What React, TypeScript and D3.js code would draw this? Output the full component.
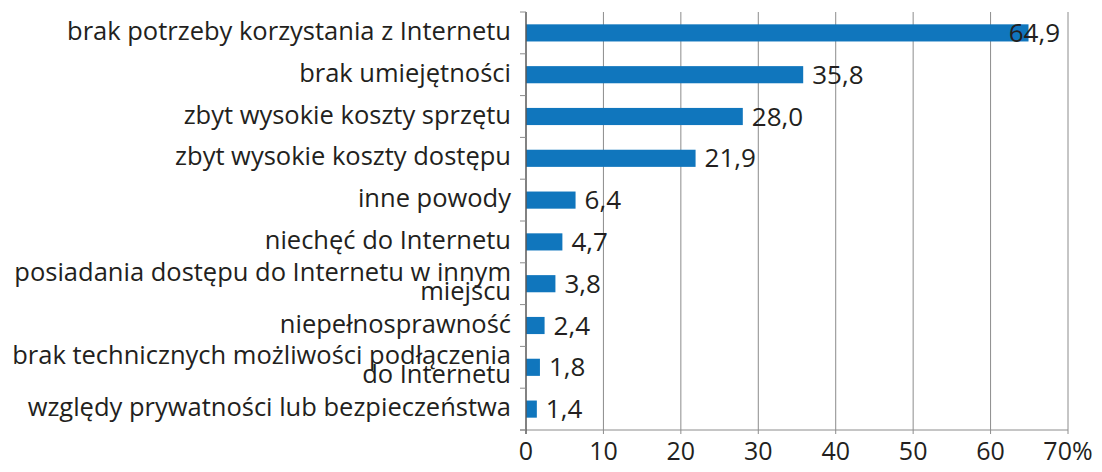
import React from "react";
import * as d3 from "d3";

const categories: string[][] = [
  ["brak potrzeby korzystania z Internetu"],
  ["brak umiejętności"],
  ["zbyt wysokie koszty sprzętu"],
  ["zbyt wysokie koszty dostępu"],
  ["inne powody"],
  ["niechęć do Internetu"],
  ["posiadania dostępu do Internetu w innym", "miejscu"],
  ["niepełnosprawność"],
  ["brak technicznych możliwości podłączenia", "do Internetu"],
  ["względy prywatności lub bezpieczeństwa"],
];
const values: number[] = [64.9, 35.8, 28.0, 21.9, 6.4, 4.7, 3.8, 2.4, 1.8, 1.4];
const xTicks: number[] = [0, 10, 20, 30, 40, 50, 60, 70];
const xTickLabels: string[] = ["0", "10", "20", "30", "40", "50", "60", "70%"];

const W = 1102;
const H = 472;
const left = 526;
const right = 1068;
const top = 12;
const bottom = 430;
const FONT = "'Open Sans', 'Noto Sans', sans-serif";

export default function App() {
  const x = d3.scaleLinear().domain([0, 70]).range([left, right]);
  const idx = categories.map((_, i) => String(i));
  const y = d3.scaleBand().domain(idx).range([top, bottom]).paddingInner(0.59).paddingOuter(0.295);
  const band = d3.scaleBand().domain(idx).range([top, bottom]);
  const fmt = (v: number) => v.toFixed(1).replace(".", ",");
  const labelW = (s: string) => s.length * 13;

  return (
    <svg width={W} height={H} style={{ position: "absolute", left: 0, top: 0, background: "#fff" }}>
      {xTicks.slice(1).map((t) => (
        <line key={"g" + t} x1={x(t)} x2={x(t)} y1={top} y2={bottom + 4} stroke="#8c8c8c" strokeWidth={1} />
      ))}
      <line x1={left - 6} x2={right} y1={bottom} y2={bottom} stroke="#8c8c8c" strokeWidth={1} />
      {values.map((v, i) => (
        <rect key={"b" + i} x={x(0)} y={y(String(i))} width={x(v) - x(0)} height={y.bandwidth()} fill="#1076bd" />
      ))}
      <line x1={left} x2={left} y1={top} y2={bottom + 4} stroke="#595959" strokeWidth={1.5} />
      {d3.range(categories.length + 1).map((k) => {
        const yy = top + k * band.bandwidth();
        return <line key={"t" + k} x1={left - 6} x2={left} y1={yy} y2={yy} stroke="#8c8c8c" strokeWidth={1} />;
      })}
      {categories.map((lines, i) => {
        const c = (band(String(i)) as number) + band.bandwidth() / 2;
        return (
          <text key={"c" + i} textAnchor="end" fontFamily={FONT} fontSize={25.5} fill="#231f20">
            {lines.length === 1 ? (
              <tspan x={511} y={c + 7}>{lines[0]}</tspan>
            ) : (
              lines.map((l, j) => (
                <tspan key={j} x={511} y={c - 3 + j * 19}>{l}</tspan>
              ))
            )}
          </text>
        );
      })}
      {values.map((v, i) => {
        const c = (band(String(i)) as number) + band.bandwidth() / 2;
        const s = fmt(v);
        let lx = x(v) + 9;
        let anchor: "start" | "end" = "start";
        if (lx + labelW(s) > right) {
          lx = right - 8;
          anchor = "end";
        }
        return (
          <text key={"v" + i} x={lx} y={c + 9} textAnchor={anchor} fontFamily={FONT} fontSize={26} fill="#231f20">
            {s}
          </text>
        );
      })}
      {xTicks.map((t, i) => (
        <text key={"xl" + t} x={x(t)} y={460} textAnchor="middle" fontFamily={FONT} fontSize={25} fill="#231f20">
          {xTickLabels[i]}
        </text>
      ))}
    </svg>
  );
}
